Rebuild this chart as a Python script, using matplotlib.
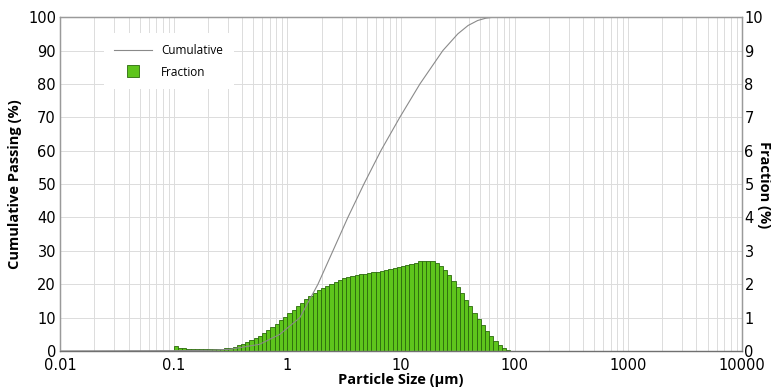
"""Particle size distribution: cumulative passing and size-class fraction."""
import matplotlib
matplotlib.use("Agg")
import matplotlib.pyplot as plt
import numpy as np
from matplotlib.lines import Line2D

# size classes: geometric bins starting at 0.1 um, 27 per decade
first_edge_um = 0.1
bins_per_decade = 27

# fraction (%) in each size class
fraction = [
    0.15, 0.10, 0.08, 0.07, 0.06, 0.05, 0.05, 0.05, 0.05, 0.05,
    0.06, 0.07, 0.08, 0.10, 0.13, 0.17, 0.21, 0.26, 0.32, 0.38,
    0.45, 0.53, 0.62, 0.72, 0.82, 0.93, 1.03, 1.13, 1.24, 1.35,
    1.45, 1.55, 1.65, 1.74, 1.82, 1.89, 1.96, 2.02, 2.08, 2.13,
    2.18, 2.21, 2.24, 2.27, 2.30, 2.32, 2.34, 2.36, 2.38, 2.40,
    2.42, 2.45, 2.48, 2.51, 2.54, 2.57, 2.61, 2.65, 2.69, 2.71,
    2.71, 2.69, 2.64, 2.55, 2.42, 2.27, 2.10, 1.92, 1.73, 1.54,
    1.34, 1.14, 0.95, 0.77, 0.60, 0.44, 0.30, 0.18, 0.09, 0.04,
    0.01,
]

# cumulative passing curve (%), read at these sizes (um)
cum_size = [0.01, 0.1, 0.2, 0.31, 0.57, 0.86, 1.29, 1.86, 2.52, 3.41,
            4.72, 6.66, 9.78, 14.7, 23.4, 31.7, 39.0, 47.4, 56.0, 66.0, 10000]
cum_pct = [0.0, 0.1, 0.2, 0.5, 2.0, 5.0, 10.0, 20.0, 30.0, 40.0,
           50.0, 60.0, 70.0, 80.0, 90.0, 95.0, 97.5, 99.0, 99.7, 100.0, 100.0]

x_ticks = [0.01, 0.1, 1, 10, 100, 1000, 10000]
x_ticklabels = ["0.01", "0.1", "1", "10", "100", "1000", "10000"]

tick_font = ["Liberation Sans Narrow", "DejaVu Sans"]
label_font = ["Open Sans", "DejaVu Sans"]
bar_face, bar_edge, line_col = "#5ec41c", "#2b6a0c", "#8a8a8a"

n = len(fraction)
edges = first_edge_um * 10 ** (np.arange(n + 1) / bins_per_decade)

fig = plt.figure(figsize=(7.71, 3.90), dpi=100)
ax = fig.add_axes([0.078, 0.10, 0.884, 0.856])
ax2 = ax.twinx()
ax2.xaxis.set_visible(True)  # twinx hides it; needed for the vertical grid

# bars + grid live on the right axis, the line sits on top of them
ax2.set_axisbelow(True)
ax2.bar(edges[:-1], fraction, width=np.diff(edges), align="edge",
        color=bar_face, edgecolor=bar_edge, linewidth=0.6)
ax2.grid(True, which="both", axis="x", color="#dcdcdc", linewidth=0.7)
ax2.grid(True, which="major", axis="y", color="#dcdcdc", linewidth=0.7)

ax.set_zorder(ax2.get_zorder() + 1)
ax.patch.set_visible(False)
ax.plot(cum_size, cum_pct, color=line_col, linewidth=0.8)

ax.set_xscale("log")
ax.set_xlim(0.01, 10000)
ax.set_ylim(0, 100)
ax2.set_ylim(0, 10)
ax.set_xticks(x_ticks)
ax.set_xticklabels(x_ticklabels, family=tick_font, fontsize=10.5)
ax.set_yticks(range(0, 101, 10))
ax.set_yticklabels([str(v) for v in range(0, 101, 10)], family=tick_font, fontsize=10.5)
ax2.set_yticks(range(0, 11))
ax2.set_yticklabels([str(v) for v in range(0, 11)], family=tick_font, fontsize=10.5)
ax.tick_params(which="both", length=0, pad=3)
ax.tick_params(axis="x", which="both", pad=5)
ax2.tick_params(which="both", length=0, pad=2)
ax2.tick_params(axis="x", which="both", labelbottom=False)

for a in (ax, ax2):
    for s in a.spines.values():
        s.set_color("#9a9a9a")
        s.set_linewidth(0.9)
ax.spines["bottom"].set_color("#707070")

ax.set_xlabel("Particle Size (\u03bcm)", family=label_font, fontweight="bold",
              fontsize=10.5, labelpad=0)
ax.set_ylabel("Cumulative Passing (%)", family=label_font, fontweight="bold",
              fontsize=10.5, labelpad=4)
# right label placed by hand: the default pad pushes it off the canvas
fig.text(0.991, 0.526, "Fraction (%)", family=label_font, fontweight="bold",
         fontsize=10.5, rotation=270, ha="center", va="center")

handles = [Line2D([], [], color=line_col, linewidth=0.8),
           Line2D([], [], linestyle="none", marker="s", markersize=8,
                  markerfacecolor=bar_face, markeredgecolor=bar_edge,
                  markeredgewidth=0.6)]
ax.legend(handles, ["Cumulative", "Fraction"], loc="upper left",
          bbox_to_anchor=(0.055, 0.97), frameon=True, fancybox=False,
          edgecolor="none", framealpha=1.0, handlelength=3.2,
          labelspacing=0.75, borderpad=0.9,
          prop={"family": label_font, "size": 8.5})

fig.savefig("out.png", dpi=100)
